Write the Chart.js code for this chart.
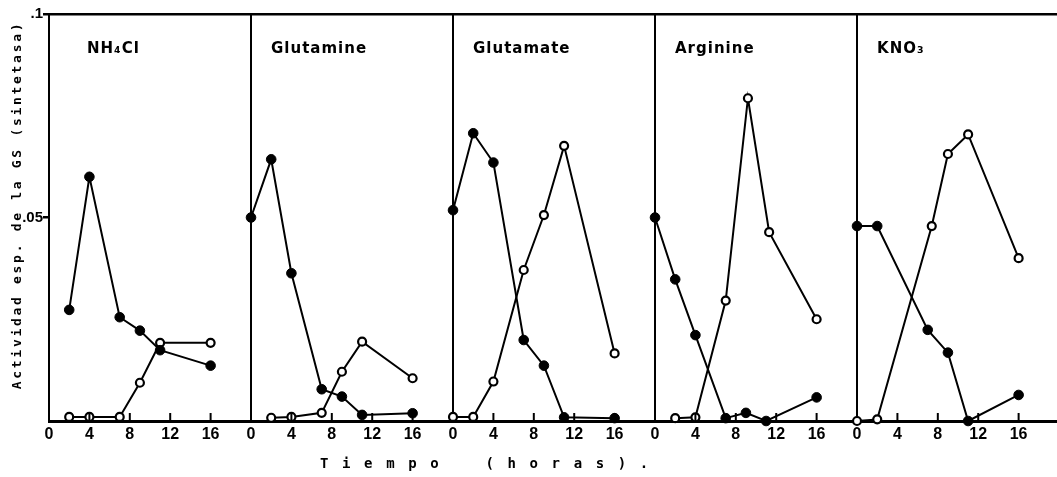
<!DOCTYPE html>
<html lang="es">
<head>
<meta charset="utf-8">
<title>Actividad de la GS</title>
<script src="https://cdn.jsdelivr.net/npm/chart.js@4.4.1/dist/chart.umd.min.js"></script>
<style>
  html, body { margin: 0; padding: 0; background: #fff; }
  #gsChart { display: block; }
</style>
</head>
<body>
<canvas id="gsChart" width="1057" height="477"></canvas>
<script>
// one panel per nitrogen source, each panel takes 20 h of the shared x axis
const panelNames = ["NH₄Cl", "Glutamine", "Glutamate", "Arginine", "KNO₃"];
const panelSpan = 20;

// NH4Cl
const nh4clSolidHours = [2, 4, 7, 9, 11, 16];
const nh4clSolid = [0.0273, 0.0600, 0.0255, 0.0222, 0.0174, 0.0136];
const nh4clOpenHours = [2, 4, 7, 9, 11, 16];
const nh4clOpen = [0.0010, 0.0010, 0.0010, 0.0094, 0.0192, 0.0192];

// Glutamine
const glnSolidHours = [0, 2, 4, 7, 9, 11, 16];
const glnSolid = [0.0500, 0.0643, 0.0363, 0.0078, 0.0060, 0.0015, 0.0019];
const glnOpenHours = [2, 4, 7, 9, 11, 16];
const glnOpen = [0.0008, 0.0010, 0.0020, 0.0121, 0.0195, 0.0105];

// Glutamate
const gluSolidHours = [0, 2, 4, 7, 9, 11, 16];
const gluSolid = [0.0518, 0.0707, 0.0635, 0.0199, 0.0136, 0.0009, 0.0007];
const gluOpenHours = [0, 2, 4, 7, 9, 11, 16];
const gluOpen = [0.0010, 0.0010, 0.0097, 0.0371, 0.0506, 0.0676, 0.0166];

// Arginine
const argSolidHours = [0, 2, 4, 7, 9, 11, 16];
const argSolid = [0.0500, 0.0348, 0.0211, 0.0007, 0.0020, 0.0000, 0.0058];
const argOpenHours = [2, 4, 7, 9.2, 11.3, 16];
const argOpen = [0.0007, 0.0009, 0.0296, 0.0793, 0.0464, 0.0250];

// KNO3
const kno3SolidHours = [0, 2, 7, 9, 11, 16];
const kno3Solid = [0.0479, 0.0479, 0.0224, 0.0168, 0.0000, 0.0064];
const kno3OpenHours = [0, 2, 7.4, 9, 11, 16];
const kno3Open = [0.0000, 0.0004, 0.0479, 0.0656, 0.0704, 0.0400];

const series = [
    [nh4clSolidHours, nh4clSolid, nh4clOpenHours, nh4clOpen],
    [glnSolidHours, glnSolid, glnOpenHours, glnOpen],
    [gluSolidHours, gluSolid, gluOpenHours, gluOpen],
    [argSolidHours, argSolid, argOpenHours, argOpen],
    [kno3SolidHours, kno3Solid, kno3OpenHours, kno3Open]
];

const xTitle = "T i e m p o    ( h o r a s ) .";
const yTitle = "Actividad esp. de la GS (sintetasa)";

document.addEventListener("DOMContentLoaded", function () {

    function toPoints(hours, values, panel) {
        return hours.map((h, i) => ({ x: panel * panelSpan + h, y: values[i] }));
    }

    const datasets = [];
    series.forEach((s, p) => {
        // filled circles
        datasets.push({
            data: toPoints(s[0], s[1], p),
            borderColor: "#000", borderWidth: 2,
            pointBackgroundColor: "#000", pointBorderColor: "#000",
            pointRadius: 4.8, pointBorderWidth: 1,
            tension: 0, clip: false
        });
        // open circles
        datasets.push({
            data: toPoints(s[2], s[3], p),
            borderColor: "#000", borderWidth: 2,
            pointBackgroundColor: "#fff", pointBorderColor: "#000",
            pointRadius: 4, pointBorderWidth: 2.2,
            tension: 0, clip: false
        });
    });

    // panel names, inner tick marks and the two axis titles
    const panelText = {
        id: "panelText",
        afterDraw(chart) {
            const { ctx, chartArea, scales } = chart;
            const x = scales.x;
            ctx.save();
            ctx.strokeStyle = "#000";
            ctx.lineWidth = 2;
            x.ticks.forEach(t => {
                if (t.value % panelSpan === 0) return;
                const px = x.getPixelForValue(t.value);
                ctx.beginPath();
                ctx.moveTo(px, chartArea.bottom);
                ctx.lineTo(px, chartArea.bottom - 8);
                ctx.stroke();
            });

            ctx.fillStyle = "#000";
            ctx.textBaseline = "middle";
            ctx.textAlign = "left";
            ctx.font = "bold 15px 'DejaVu Sans'";
            ctx.letterSpacing = "1px";
            panelNames.forEach((name, p) => {
                const left = x.getPixelForValue(p * panelSpan);
                ctx.fillText(name, left + (p === 0 ? 38 : 20), chartArea.top + 35);
            });

            ctx.font = "bold 14px 'DejaVu Sans Mono'";
            ctx.letterSpacing = "2.6px";
            ctx.fillText(xTitle, 320, 464);

            ctx.translate(18, 205);
            ctx.rotate(-Math.PI / 2);
            ctx.textAlign = "center";
            ctx.font = "bold 13px 'DejaVu Sans Mono'";
            ctx.letterSpacing = "2.7px";
            ctx.fillText(yTitle, 0, 0);
            ctx.restore();
        }
    };

    const tickFont = { family: "'Liberation Sans Narrow', 'Liberation Sans', sans-serif", size: 16, weight: "bold" };

    new Chart(document.getElementById("gsChart").getContext("2d"), {
        type: "line",
        data: { datasets: datasets },
        options: {
            responsive: false,
            animation: false,
            layout: { autoPadding: false, padding: { top: 14, right: 0, left: 0, bottom: 0 } },
            plugins: { legend: { display: false }, tooltip: { enabled: false } },
            scales: {
                x: {
                    type: "linear", min: 0, max: 99.8,
                    afterFit(scale) { scale.height = 56; },
                    afterBuildTicks(scale) {
                        scale.ticks = [];
                        for (let v = 0; v < 100; v += 4) scale.ticks.push({ value: v });
                    },
                    border: { color: "#000", width: 3 },
                    grid: {
                        drawTicks: false,
                        lineWidth: 2,
                        color: c => (c.tick && c.tick.value % panelSpan === 0 && c.tick.value > 0) ? "#000" : "rgba(0,0,0,0)"
                    },
                    ticks: {
                        autoSkip: false, maxRotation: 0, padding: 4,
                        color: "#000", font: tickFont,
                        callback: v => String(v % panelSpan)
                    }
                },
                y: {
                    min: 0, max: 0.1,
                    afterFit(scale) { scale.width = 49; },
                    border: { color: "#000", width: 2 },
                    grid: {
                        lineWidth: 2.5,
                        tickLength: 6,
                        color: c => (c.tick && c.tick.value > 0.099) ? "#000" : "rgba(0,0,0,0)",
                        tickColor: c => (c.tick && c.tick.value > 0.01) ? "#000" : "rgba(0,0,0,0)"
                    },
                    ticks: {
                        stepSize: 0.05, padding: 0,
                        color: "#000", font: { family: "'Liberation Sans', sans-serif", size: 15, weight: "bold" },
                        callback: v => v < 0.01 ? "" : (v > 0.099 ? ".1" : ".05")
                    }
                }
            }
        },
        plugins: [panelText]
    });

});
</script>
</body>
</html>
